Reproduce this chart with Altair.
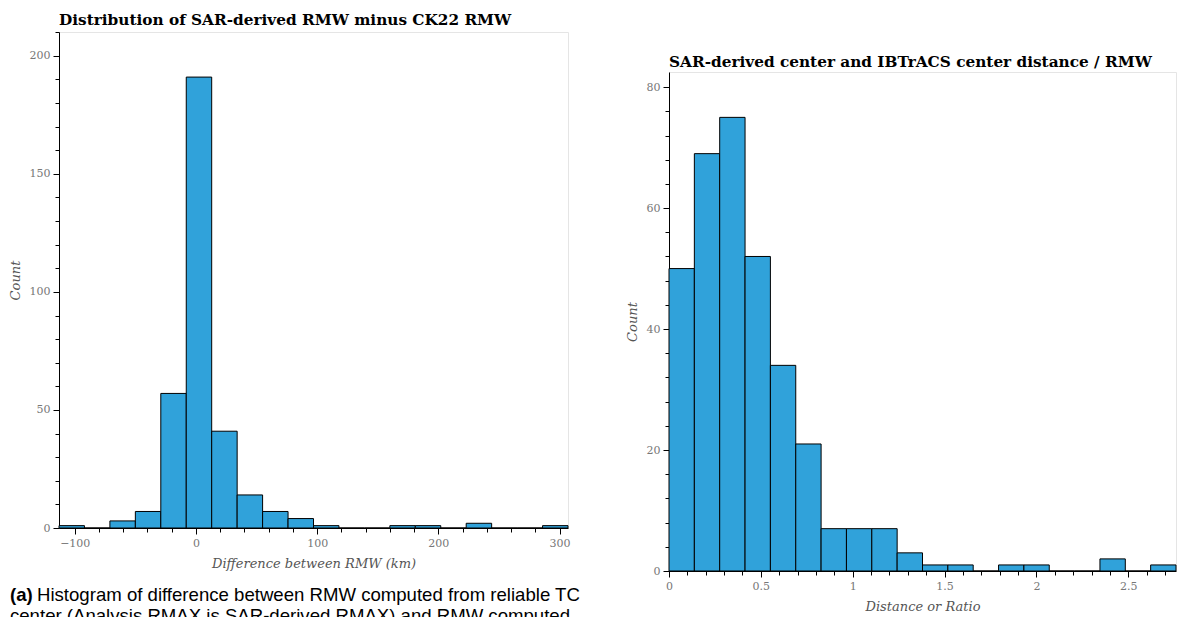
import altair as alt
import pandas as pd

# ---------------- data ----------------
left_title = "Distribution of SAR-derived RMW minus CK22 RMW"
left_xlabel = "Difference between RMW (km)"
left_bin_start = -113.0
left_bin_width = 21.0
left_counts = [1, 0, 3, 7, 57, 191, 41, 14, 7, 4, 1, 0, 0, 1, 1, 0, 2, 0, 0, 1]
left_x_domain = [-113, 307]
left_y_domain = [0, 210.1]
left_x_ticks = list(range(-100, 301, 20))
left_y_ticks = list(range(0, 211, 10))

right_title = "SAR-derived center and IBTrACS center distance / RMW"
right_xlabel = "Distance or Ratio"
right_bin_start = 0.0
right_bin_width = 0.138
right_counts = [50, 69, 75, 52, 34, 21, 7, 7, 7, 3, 1, 1, 0, 1, 1, 0, 0, 2, 0, 1]
right_x_domain = [0, 2.76]
right_y_domain = [0, 82.5]
right_x_ticks = [round(i * 0.1, 1) for i in range(28)]
right_y_ticks = list(range(0, 81, 4))

ylabel = "Count"
caption_bold = "(a)"
caption_line1 = "Histogram of difference between RMW computed from reliable TC"
caption_line2 = "center (Analysis RMAX is SAR-derived RMAX) and RMW computed"

BAR_FILL = "#30a2da"


def hist_frame(start, width, counts):
    return pd.DataFrame({
        "start": [start + i * width for i in range(len(counts))],
        "end": [start + (i + 1) * width for i in range(len(counts))],
        "count": counts,
        "zero": [0] * len(counts),
    })


def axis(values, major_test, title, orient):
    return alt.Axis(
        values=values,
        title=title,
        orient=orient,
        grid=False,
        labelExpr=f"({major_test}) ? format(datum.value, '~g') : ''",
        tickSize={"condition": {"test": major_test, "value": 6}, "value": 4},
        labelPadding=3,
        titlePadding=9 if orient == "bottom" else 7,
        labelFlush=False,
        labelOverlap=False,
    )


def hist_chart(df, xdom, ydom, xticks, yticks, xmaj, ymaj, xtitle, w, h):
    return alt.Chart(df).mark_rect(
        fill=BAR_FILL, stroke="black", strokeWidth=1
    ).encode(
        x=alt.X("start:Q", scale=alt.Scale(domain=xdom, nice=False, zero=False),
                axis=axis(xticks, xmaj, xtitle, "bottom")),
        x2="end:Q",
        y=alt.Y("count:Q", scale=alt.Scale(domain=ydom, nice=False),
                axis=axis(yticks, ymaj, ylabel, "left")),
        y2="zero:Q",
    ).properties(width=w, height=h)


def title_params(text, offset):
    return alt.TitleParams(text, anchor="start", frame="group", font="DejaVu Serif",
                           fontSize=15.3, fontWeight="bold", color="black", offset=offset)


left_hist = hist_chart(
    hist_frame(left_bin_start, left_bin_width, left_counts),
    left_x_domain, left_y_domain, left_x_ticks, left_y_ticks,
    "abs(datum.value % 100) < 1e-6", "abs(datum.value % 50) < 1e-6",
    left_xlabel, 509, 496,
)

cap_font = "Liberation Sans"
cap_df = pd.DataFrame({"a": [caption_bold], "b": [caption_line1], "c": [caption_line2]})
cap_a = alt.Chart(cap_df).mark_text(
    align="left", baseline="alphabetic", font=cap_font, fontSize=18.6,
    fontWeight="bold", color="black"
).encode(text="a:N", x=alt.value(-49), y=alt.value(569))
cap_b = alt.Chart(cap_df).mark_text(
    align="left", baseline="alphabetic", font=cap_font, fontSize=18.6, color="black"
).encode(text="b:N", x=alt.value(-22), y=alt.value(569))
cap_c = alt.Chart(cap_df).mark_text(
    align="center", baseline="alphabetic", font=cap_font, fontSize=18.6, color="black"
).encode(text="c:N", x=alt.value(231), y=alt.value(590))

left = alt.layer(left_hist, cap_a, cap_b, cap_c).properties(
    title=title_params(left_title, -2)
)

right = hist_chart(
    hist_frame(right_bin_start, right_bin_width, right_counts),
    right_x_domain, right_y_domain, right_x_ticks, right_y_ticks,
    "abs(datum.value * 2 - round(datum.value * 2)) < 1e-6",
    "abs(datum.value % 20) < 1e-6",
    right_xlabel, 507, 499,
).properties(title=title_params(right_title, 2))

spacer = alt.Chart(pd.DataFrame({"v": [0]})).mark_point(opacity=0).properties(
    width=507, height=1, view=alt.ViewBackground(stroke="transparent")
)

right_col = alt.vconcat(spacer, right, spacing=18)

chart = alt.hconcat(left, right_col, spacing=44).properties(
    padding={"left": 0, "top": 4, "right": 0, "bottom": 0},
    background="white",
).configure_view(
    stroke="#e5e5e5", strokeWidth=1
).configure_axis(
    domainColor="black", tickColor="black", domainWidth=1, tickWidth=1,
    labelFont="DejaVu Serif", labelFontSize=11, labelColor="#777777",
    titleFont="DejaVu Serif", titleFontStyle="italic", titleFontWeight="normal",
    titleFontSize=13, titleColor="#555555",
)

chart.save("out.html", embed_options={"renderer": "svg", "actions": False})
